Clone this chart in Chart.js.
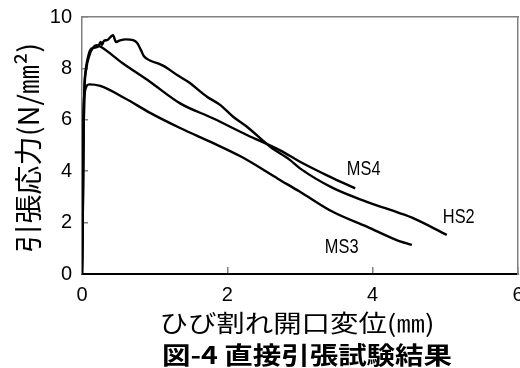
<!DOCTYPE html>
<html>
<head>
<meta charset="utf-8">
<script src="https://cdn.jsdelivr.net/npm/chart.js@4.4.1/dist/chart.umd.min.js"></script>
<style>
  html, body { margin: 0; padding: 0; background: #fff; }
  canvas { display: block; }
</style>
</head>
<body>
<canvas id="chart" width="520" height="368"></canvas>
<script>
// HS2 curve (crack opening mm / stress N/mm2)
const hs2X = [0, 0.01, 0.02, 0.03, 0.05, 0.08, 0.11, 0.16, 0.22, 0.257, 0.275, 0.30, 0.344, 0.426, 0.468, 0.523, 0.605, 0.70, 0.757, 0.81, 0.85, 0.935, 1.07, 1.14, 1.31, 1.46, 1.72, 1.90, 2.08, 2.27, 2.59, 2.86, 3.0, 3.45, 3.92, 4.37, 4.55, 5.02];
const hs2Y = [0, 2, 5, 7, 7.9, 8.4, 8.7, 8.8, 8.84, 9.03, 8.91, 9.07, 9.1, 9.29, 9.03, 9.09, 9.13, 9.1, 9.0, 8.72, 8.48, 8.31, 8.17, 8.07, 7.74, 7.48, 6.9, 6.58, 6.12, 5.73, 4.95, 4.44, 4.11, 3.35, 2.81, 2.37, 2.18, 1.52];

// MS4 curve
const ms4X = [0, 0.01, 0.02, 0.035, 0.06, 0.1, 0.15, 0.2, 0.25, 0.56, 0.935, 1.35, 1.80, 2.27, 2.72, 3.0, 3.4, 3.76];
const ms4Y = [0, 2, 5, 7.2, 8.0, 8.5, 8.8, 8.9, 8.85, 8.2, 7.48, 6.64, 6.06, 5.41, 4.82, 4.37, 3.8, 3.33];

// MS3 curve
const ms3X = [0, 0.01, 0.015, 0.02, 0.035, 0.06, 0.1, 0.25, 0.59, 0.95, 1.35, 1.80, 2.2, 2.7, 3.0, 3.45, 3.92, 4.33, 4.54];
const ms3Y = [0, 2, 4.5, 6.2, 7.0, 7.3, 7.38, 7.32, 6.84, 6.25, 5.68, 5.10, 4.55, 3.7, 3.2, 2.42, 1.84, 1.32, 1.13];

// curve labels, placed in data units
const labelNames = ['MS4', 'HS2', 'MS3'];
const labelX = [3.645, 4.966, 3.342];
const labelY = [3.85, 1.98, 0.83];

const xTitle = 'ひび割れ開口変位(㎜)';
const yTitle = '引張応力(N/㎜²)';
const caption = '図-4 直接引張試験結果';

function toPoints(xs, ys) {
    return xs.map((x, i) => ({ x: x, y: ys[i] }));
}

// draw text centred at (cx, cy), stretched along its own direction to a given width
function fitText(ctx, text, font, cx, cy, width, angle) {
    ctx.save();
    ctx.font = font;
    ctx.textAlign = 'center';
    ctx.textBaseline = 'middle';
    const w = ctx.measureText(text).width;
    ctx.translate(cx, cy);
    ctx.rotate(angle);
    ctx.scale(width / w, 1);
    ctx.fillText(text, 0, 0);
    ctx.restore();
}

const textPlugin = {
    id: 'texts',
    afterDraw(chart) {
        const ctx = chart.ctx;
        const xs = chart.scales.x;
        const ys = chart.scales.y;
        ctx.save();
        ctx.fillStyle = '#000';
        ctx.font = '21px "Liberation Sans", Arial, sans-serif';
        ctx.textAlign = 'left';
        ctx.textBaseline = 'alphabetic';
        labelNames.forEach((name, i) => {
            ctx.save();
            ctx.translate(xs.getPixelForValue(labelX[i]), ys.getPixelForValue(labelY[i]));
            ctx.scale(0.78, 1);
            ctx.fillText(name, 0, 0);
            ctx.restore();
        });
        fitText(ctx, xTitle, '24px "Noto Sans CJK JP"', 297, 323, 275, 0);
        fitText(ctx, caption, 'bold 24px "Noto Sans CJK JP"', 307, 355, 290, 0);
        fitText(ctx, yTitle, '28px "Noto Sans CJK JP"', 28, 148, 210, -Math.PI / 2);
        ctx.restore();
    }
};

const tickFont = { family: '"Liberation Sans", Arial, sans-serif', size: 20 };

new Chart(document.getElementById('chart'), {
    type: 'line',
    data: {
        datasets: [
            { label: 'HS2', data: toPoints(hs2X, hs2Y) },
            { label: 'MS4', data: toPoints(ms4X, ms4Y) },
            { label: 'MS3', data: toPoints(ms3X, ms3Y) }
        ]
    },
    options: {
        responsive: false,
        animation: false,
        devicePixelRatio: 1,
        layout: { padding: { top: 17, right: 2, left: 0, bottom: 0 } },
        elements: {
            line: { borderColor: '#000', borderWidth: 2.4, cubicInterpolationMode: 'monotone', fill: false },
            point: { radius: 0 }
        },
        plugins: { legend: { display: false }, tooltip: { enabled: false } },
        scales: {
            x: {
                type: 'linear', position: 'bottom', min: 0, max: 6,
                ticks: { stepSize: 2, color: '#000', font: tickFont, padding: 16, maxRotation: 0 },
                grid: { drawOnChartArea: false, tickLength: -7, color: '#808080', lineWidth: 1.5 },
                border: { color: '#000', width: 2 },
                afterFit(s) { s.height = 94; s.paddingLeft = 0; s.paddingRight = 0; }
            },
            y: {
                type: 'linear', position: 'left', min: 0, max: 10,
                ticks: { stepSize: 2, color: '#000', font: tickFont, padding: 16 },
                grid: { drawOnChartArea: false, tickLength: -6, color: '#808080', lineWidth: 1.5 },
                border: { color: '#808080', width: 1.5 },
                afterFit(s) { s.width = 82; s.paddingTop = 0; s.paddingBottom = 0; }
            },
            x2: {
                type: 'linear', position: 'top', min: 0, max: 6,
                ticks: { display: false }, grid: { display: false },
                border: { color: '#808080', width: 1.5 },
                afterFit(s) { s.height = 0; }
            },
            y2: {
                type: 'linear', position: 'right', min: 0, max: 10,
                ticks: { display: false }, grid: { display: false },
                border: { color: '#808080', width: 1.5 },
                afterFit(s) { s.width = 0; }
            }
        }
    },
    plugins: [textPlugin]
});
</script>
</body>
</html>
